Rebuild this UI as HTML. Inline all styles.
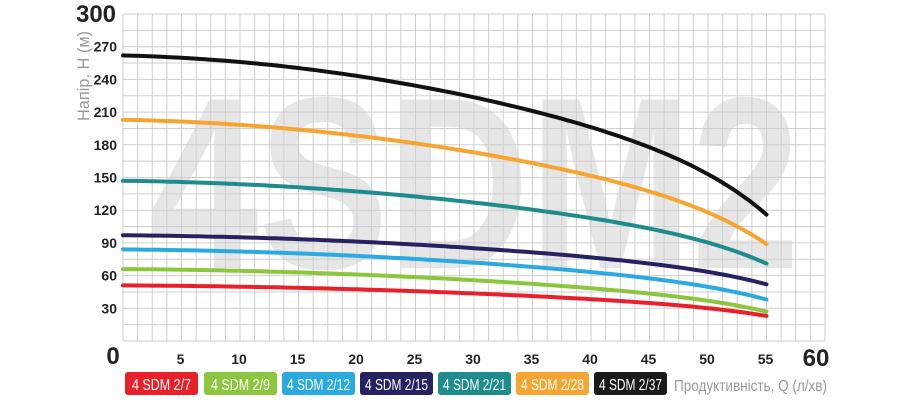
<!DOCTYPE html>
<html><head><meta charset="utf-8"><style>
html,body{margin:0;padding:0;background:#fff;}
svg{display:block;}
.t{font-family:"Liberation Sans",sans-serif;font-weight:bold;fill:#222;}
</style></head><body>
<svg width="900" height="400" viewBox="0 0 900 400" xmlns="http://www.w3.org/2000/svg">
<text x="150" y="268" font-family="Liberation Sans,sans-serif" font-weight="bold" font-size="245" fill="#e6e6e6" textLength="650" lengthAdjust="spacingAndGlyphs">4SDM2</text>
<g id="grid" stroke="#cfcfcf" stroke-width="1"></g>
<g id="curves" fill="none" stroke-width="4" stroke-linecap="round"></g>
<g class="t" font-size="14" text-anchor="end" id="yl"></g>
<g class="t" font-size="14" text-anchor="middle" id="xl"></g>
<text class="t" x="113" y="364" font-size="24" text-anchor="middle">0</text>
<text class="t" x="816" y="366" font-size="24" text-anchor="middle">60</text>
<text class="t" x="96" y="22" font-size="24" text-anchor="middle">300</text>
<text transform="translate(89,76) rotate(-90)" font-family="Liberation Sans,sans-serif" font-size="17" fill="#999" text-anchor="middle" textLength="90" lengthAdjust="spacingAndGlyphs">Напір, H (м)</text>
<g font-family="Liberation Sans,sans-serif" font-size="16" fill="#fff">
<rect x="125" y="372" width="73" height="23" rx="3" fill="#e8202a"/><text x="132" y="390" textLength="59" lengthAdjust="spacingAndGlyphs">4 SDM 2/7</text>
<rect x="204" y="372" width="73" height="23" rx="3" fill="#8cc63f"/><text x="211" y="390" textLength="59" lengthAdjust="spacingAndGlyphs">4 SDM 2/9</text>
<rect x="282" y="372" width="73" height="23" rx="3" fill="#29abe2"/><text x="287" y="390" textLength="63" lengthAdjust="spacingAndGlyphs">4 SDM 2/12</text>
<rect x="360" y="372" width="73" height="23" rx="3" fill="#262262"/><text x="365" y="390" textLength="63" lengthAdjust="spacingAndGlyphs">4 SDM 2/15</text>
<rect x="438" y="372" width="73" height="23" rx="3" fill="#1e8c8c"/><text x="443" y="390" textLength="63" lengthAdjust="spacingAndGlyphs">4 SDM 2/21</text>
<rect x="516" y="372" width="73" height="23" rx="3" fill="#f7a531"/><text x="521" y="390" textLength="63" lengthAdjust="spacingAndGlyphs">4 SDM 2/28</text>
<rect x="594" y="372" width="73" height="23" rx="3" fill="#1a1a1a"/><text x="599" y="390" textLength="63" lengthAdjust="spacingAndGlyphs">4 SDM 2/37</text>
</g>
<text x="674" y="391" font-family="Liberation Sans,sans-serif" font-size="16" fill="#999" textLength="153" lengthAdjust="spacingAndGlyphs">Продуктивність, Q (л/хв)</text>
</svg>
<script>
var ns="http://www.w3.org/2000/svg";
var X0=123,X1=825,Y0=341,Y1=14;
function px(q){return X0+(X1-X0)*q/60;}
function py(h){return Y0-(Y0-Y1)*h/300;}
var g=document.getElementById('grid');
function ln(par,x1,y1,x2,y2){var l=document.createElementNS(ns,'line');l.setAttribute('x1',x1);l.setAttribute('y1',y1);l.setAttribute('x2',x2);l.setAttribute('y2',y2);par.appendChild(l);}
for(var i=0;i<=48;i++){var x=px(i*1.25);ln(g,x,Y1,x,Y0);}
for(var j=0;j<=20;j++){var y=py(j*15);ln(g,X0,y,X1,y);}
var yl=document.getElementById('yl');
for(var v=30;v<=270;v+=30){var t=document.createElementNS(ns,'text');t.setAttribute('x',117);t.setAttribute('y',py(v)+5);t.textContent=v;yl.appendChild(t);}
var xl=document.getElementById('xl');
for(var q=5;q<=55;q+=5){var t=document.createElementNS(ns,'text');t.setAttribute('x',px(q)-1);t.setAttribute('y',364);t.textContent=q;xl.appendChild(t);}
var cs=[["#e8202a",51,23],["#8cc63f",66,27],["#29abe2",84,38],["#262262",97,52],["#1e8c8c",147,71],["#f7a531",203,89],["#111",262,116]];
var cg=document.getElementById('curves');
cs.forEach(function(c){var pts=[];for(var k=0;k<=110;k++){var q=k*0.5,x=q/55;var f=0.1*x+0.7*x*x+0.2*Math.pow(x,10);var h=c[1]-(c[1]-c[2])*f;pts.push(px(q).toFixed(1)+","+py(h).toFixed(1));}
var p=document.createElementNS(ns,'polyline');p.setAttribute('points',pts.join(' '));p.setAttribute('stroke',c[0]);cg.appendChild(p);});
</script>
</body></html>
